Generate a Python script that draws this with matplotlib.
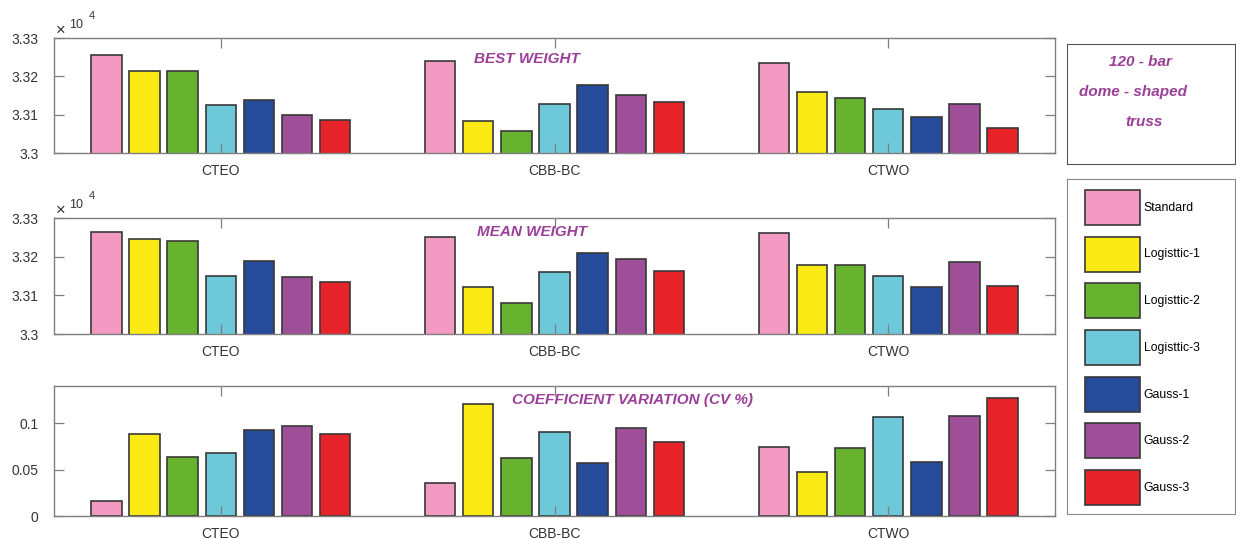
import numpy as np
import matplotlib
matplotlib.use("Agg")
import matplotlib.pyplot as plt
from matplotlib.patches import Patch
from matplotlib.transforms import offset_copy


categories = ["CTEO", "CBB-BC", "CTWO"]
variants = ["Standard", "Logisttic-1", "Logisttic-2", "Logisttic-3",
            "Gauss-1", "Gauss-2", "Gauss-3"]
bar_colors = ["#F29AC1", "#FCEA14", "#67B22F", "#6DC8D9",
              "#264B9B", "#9E4F98", "#E52328"]

# weights in units of 10^4, one row per variant, columns follow categories
best_weight = [
    [3.3255, 3.3240, 3.3235],
    [3.3215, 3.3083, 3.3159],
    [3.3213, 3.3057, 3.3143],
    [3.3126, 3.3129, 3.3115],
    [3.3137, 3.3177, 3.3093],
    [3.3098, 3.3151, 3.3129],
    [3.3086, 3.3133, 3.3066],
]
mean_weight = [
    [3.3263, 3.3251, 3.3261],
    [3.3245, 3.3121, 3.3178],
    [3.3240, 3.3079, 3.3178],
    [3.3149, 3.3160, 3.3150],
    [3.3189, 3.3210, 3.3122],
    [3.3147, 3.3194, 3.3186],
    [3.3135, 3.3163, 3.3124],
]
cv_values = [
    [0.0165, 0.0360, 0.0745],
    [0.0888, 0.1209, 0.0471],
    [0.0637, 0.0622, 0.0730],
    [0.0680, 0.0910, 0.1068],
    [0.0928, 0.0568, 0.0579],
    [0.0971, 0.0950, 0.1072],
    [0.0885, 0.0799, 0.1266],
]

weight_ticks = [3.3, 3.31, 3.32, 3.33]
weight_ticklabels = ["3.3", "3.31", "3.32", "3.33"]
cv_ticks = [0, 0.05, 0.1]
cv_ticklabels = ["0", "0.05", "0.1"]

W, H = 1236, 539
FRAME = "#7f7f7f"
EDGE = "#383838"
TEXT = "#333333"
PURPLE = "#9B3F98"

plt.rcParams["font.family"] = ["Liberation Sans", "DejaVu Sans"]


def px_box(left, top, right, bottom):
    return [left / W, 1 - bottom / H, (right - left) / W, (bottom - top) / H]


def draw_panel(ax, values, ylim, ticks, ticklabels):
    n = len(variants)
    group_w = min(0.8, n / (n + 1.5))
    step = group_w / n
    x = np.arange(1, len(categories) + 1)
    for i, (row, c) in enumerate(zip(values, bar_colors)):
        ax.bar(x + (i - (n - 1) / 2) * step, row, width=step * 0.8,
               color=c, edgecolor=EDGE, linewidth=1.2)
    ax.set_xlim(0.5, 3.5)
    ax.set_ylim(*ylim)
    ax.set_xticks(x)
    ax.set_xticklabels(categories)
    ax.set_yticks(ticks)
    ax.set_yticklabels(ticklabels)
    ax.tick_params(direction="in", length=7, width=0.9, top=True, right=True,
                   color=FRAME, labelcolor=TEXT, labelsize=10)
    ax.tick_params(axis="x", pad=8)
    ax.tick_params(axis="y", pad=11)
    for s in ax.spines.values():
        s.set_color(FRAME)
        s.set_linewidth(1.0)


def add_multiplier(ax):
    fig = ax.figure
    for txt, dx, dy, size in [("\u00d7", 7, 8, 12), ("10", 22, 13, 9), ("4", 38, 22, 8)]:
        tr = offset_copy(ax.transAxes, fig=fig, x=dx, y=dy, units="dots")
        ax.text(0, 1, txt, transform=tr, ha="center", va="center",
                fontsize=size, color=TEXT)


def title_text(ax, x, y, s):
    ax.text(x, y, s, transform=ax.transAxes, ha="center", va="center",
            fontsize=11, fontweight="bold", fontstyle="italic", color=PURPLE)


fig = plt.figure(figsize=(W / 100, H / 100), dpi=100)

ax1 = fig.add_axes(px_box(54, 38, 1055, 153))
draw_panel(ax1, best_weight, (3.3, 3.33), weight_ticks, weight_ticklabels)
add_multiplier(ax1)
title_text(ax1, 0.4725, 0.817, "BEST WEIGHT")

ax2 = fig.add_axes(px_box(54, 218, 1055, 334))
draw_panel(ax2, mean_weight, (3.3, 3.33), weight_ticks, weight_ticklabels)
add_multiplier(ax2)
title_text(ax2, 0.4775, 0.879, "MEAN WEIGHT")

ax3 = fig.add_axes(px_box(54, 386, 1055, 516))
draw_panel(ax3, cv_values, (0, 0.14), cv_ticks, cv_ticklabels)
title_text(ax3, 0.578, 0.892, "COEFFICIENT VARIATION (CV %)")

# problem name box
ax_name = fig.add_axes(px_box(1067, 44, 1235, 164))
ax_name.set_xticks([])
ax_name.set_yticks([])
for s in ax_name.spines.values():
    s.set_color("#555555")
for txt, x, y in [("120 - bar", 0.44, 0.85), ("dome - shaped", 0.395, 0.60),
                  ("truss", 0.46, 0.35)]:
    ax_name.text(x, y, txt, transform=ax_name.transAxes, ha="center", va="center",
                 fontsize=11, fontweight="bold", fontstyle="italic", color=PURPLE)

# legend box
ax_leg = fig.add_axes(px_box(1067, 179, 1235, 514))
ax_leg.set_xticks([])
ax_leg.set_yticks([])
for s in ax_leg.spines.values():
    s.set_color("#888888")
handles = [Patch(facecolor=c, edgecolor=EDGE, linewidth=1.2) for c in bar_colors]
fs = 8.8
fs_px = fs * 100 / 72
# swatch height in the legend is fontsize * (0.65 * handleheight + 0.245)
sw_h = 35
hh = (sw_h / fs_px - 0.245) / 0.65
fig.legend(handles, variants, loc="upper left",
           bbox_to_anchor=(1085 / W, 1 - 190 / H), frameon=False,
           fontsize=fs, handlelength=55 / fs_px, handleheight=hh,
           labelspacing=(46.7 - sw_h) / fs_px,
           handletextpad=0.3, borderpad=0, borderaxespad=0)

fig.savefig("out.png", dpi=100)
